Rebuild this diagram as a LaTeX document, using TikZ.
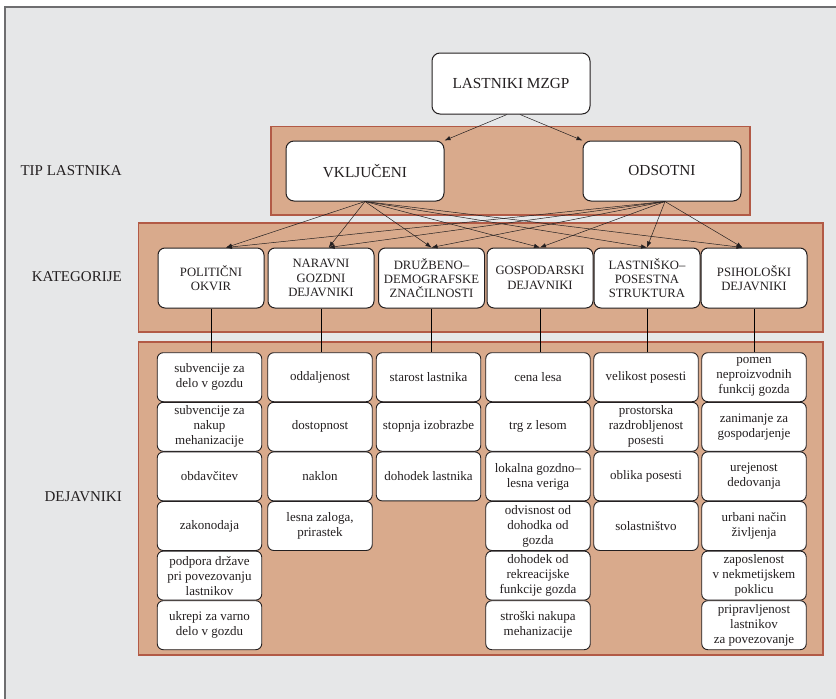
\documentclass[tikz,border=0pt]{standalone}
\usepackage{fontspec}
\setmainfont{Liberation Serif}
\usetikzlibrary{arrows.meta}
\definecolor{bg}{RGB}{230,231,232}
\definecolor{frameg}{RGB}{110,110,112}
\definecolor{band}{RGB}{217,170,140}
\definecolor{bandline}{RGB}{178,90,70}
\definecolor{txt}{RGB}{35,31,32}
\tikzset{
  bandbox/.style={fill=band,draw=bandline,line width=1.1pt},
  topbox/.style={draw=txt,rounded corners=8pt,fill=white,line width=1pt,minimum width=158pt,minimum height=60pt,font=\fontsize{15.3}{17}\selectfont,text=txt},
  catbox/.style={draw=txt,rounded corners=7pt,fill=white,line width=1pt,minimum width=106pt,minimum height=60pt,inner sep=1pt,align=center,font=\fontsize{12.7}{14.3}\selectfont,text=txt},
  facbox/.style={draw=txt,rounded corners=6pt,fill=white,line width=0.9pt,minimum width=104.5pt,minimum height=49pt,inner sep=1pt,align=center,font=\fontsize{13}{15}\selectfont,text=txt},
  sidelabel/.style={anchor=east,font=\fontsize{15}{17}\selectfont,text=txt,inner sep=0pt},
  arr/.style={draw=txt,line width=0.5pt,-{Latex[length=6pt,width=4.5pt]}},
  vline/.style={draw=black,line width=0.8pt}
}
\begin{document}
\begin{tikzpicture}[x=1pt,y=-1pt]
\useasboundingbox (0,0) rectangle (836,699);
\fill[white] (0,0) rectangle (836,699);
\fill[bg] (5,7) rectangle (836,699);
\draw[frameg,line width=1.6pt] (5,699) -- (5,7) -- (836,7);

% bands
\draw[bandbox] (271,126.7) rectangle (750,215);
\draw[bandbox] (138.7,223) rectangle (823,332);
\draw[bandbox] (138.7,342) rectangle (823,655);

% side labels
\node[sidelabel] (lt) at (122,171) {TIP LASTNIKA};
\node[sidelabel] (lk) at (122,277) {KATEGORIJE};
\node[sidelabel] (ld) at (122,497) {DEJAVNIKI};

% top nodes
\node[topbox,minimum height=61pt] (top) at (511,83.5) {LASTNIKI MZGP};
\node[topbox] (vk) at (365,171) {VKLJUČENI};
\node[topbox] (od) at (662,171) {ODSOTNI};

\draw[arr] ([xshift=-4pt]top.south) -- (vk.north east);
\draw[arr] ([xshift=9pt]top.south) -- (od.north west);

% categories
\node[catbox] (c1) at (211,278) {POLITIČNI\\OKVIR};
\node[catbox] (c2) at (321,278) {NARAVNI\\GOZDNI\\DEJAVNIKI};
\node[catbox] (c3) at (431.5,278) {DRUŽBENO–\\DEMOGRAFSKE\\ZNAČILNOSTI};
\node[catbox] (c4) at (540,278) {GOSPODARSKI\\DEJAVNIKI};
\node[catbox] (c5) at (647,278) {LASTNIŠKO–\\POSESTNA\\STRUKTURA};
\node[catbox] (c6) at (754,278) {PSIHOLOŠKI\\DEJAVNIKI};

% arrows to categories
\foreach \c/\s in {c1/15,c2/7.7,c3/0,c4/0,c5/0,c6/-11.5}{
  \draw[arr] (vk.south) -- ([xshift=\s pt]\c.north);
  \draw[arr] ([xshift=3pt]od.south) -- ([xshift=\s pt]\c.north);
}

% factors
\def\rowy#1{\fpeval{377.2+49.6*(#1-1)}}
\foreach \name/\x/\r/\t in {
  f11/209.5/1/{subvencije za\\delo v gozdu},
  f12/209.5/2/{subvencije za\\nakup\\mehanizacije},
  f13/209.5/3/{obdavčitev},
  f14/209.5/4/{zakonodaja},
  f15/209.5/5/{podpora države\\pri povezovanju\\lastnikov},
  f16/209.5/6/{ukrepi za varno\\delo v gozdu},
  f21/320/1/{oddaljenost},
  f22/320/2/{dostopnost},
  f23/320/3/{naklon},
  f24/320/4/{lesna zaloga,\\prirastek},
  f31/428.5/1/{starost lastnika},
  f32/428.5/2/{stopnja izobrazbe},
  f33/428.5/3/{dohodek lastnika},
  f41/538/1/{cena lesa},
  f42/538/2/{trg z lesom},
  f43/538/3/{lokalna gozdno–\\lesna veriga},
  f44/538/4/{odvisnost od\\dohodka od\\gozda},
  f45/538/5/{dohodek od\\rekreacijske\\funkcije gozda},
  f46/538/6/{stroški nakupa\\mehanizacije},
  f51/646/1/{velikost posesti},
  f52/646/2/{prostorska\\razdrobljenost\\posesti},
  f53/646/3/{oblika posesti},
  f54/646/4/{solastništvo},
  f61/754/1/{pomen\\neproizvodnih\\funkcij gozda},
  f62/754/2/{zanimanje za\\gospodarjenje},
  f63/754/3/{urejenost\\dedovanja},
  f64/754/4/{urbani način\\življenja},
  f65/754/5/{zaposlenost\\v nekmetijskem\\poklicu},
  f66/754/6/{pripravljenost\\lastnikov\\za povezovanje}}{
  \node[facbox] (\name) at (\x,{377.2+49.6*(\r-1)}) {\t};
}

% vertical connectors
\foreach \c/\f in {c1/f11,c2/f21,c3/f31,c4/f41,c5/f51,c6/f61}{
  \draw[vline] (\c.south) -- (\c.south |- \f.north);
}
\end{tikzpicture}
\end{document}
